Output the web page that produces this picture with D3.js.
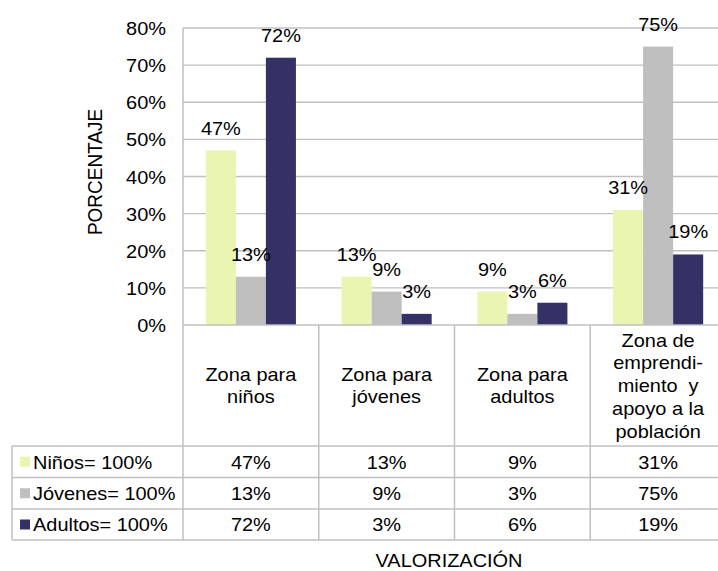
<!DOCTYPE html>
<html>
<head>
<meta charset="utf-8">
<script src="https://cdn.jsdelivr.net/npm/d3@7"></script>
<style>
  body { margin: 0; background: #fff; }
  svg text { font-family: "Liberation Sans", Arial, sans-serif; font-size: 19px; fill: #000; white-space: pre; }
</style>
</head>
<body>
<svg id="chart" width="718" height="571"></svg>
<script>
// categories (x axis) and the lines shown in the table header
var categories = ["Zona para niños", "Zona para jóvenes", "Zona para adultos", "Zona de emprendimiento y apoyo a la población"];
var categoryLines = [
  ["Zona para", "niños"],
  ["Zona para", "jóvenes"],
  ["Zona para", "adultos"],
  ["Zona de", "emprendi-", "miento  y", "apoyo a la", "población"]
];
var seriesNames = ["Niños= 100%", "Jóvenes= 100%", "Adultos= 100%"];
var ninos   = [0.47, 0.13, 0.09, 0.31];
var jovenes = [0.13, 0.09, 0.03, 0.75];
var adultos = [0.72, 0.03, 0.06, 0.19];
var yTicks  = [0, 0.1, 0.2, 0.3, 0.4, 0.5, 0.6, 0.7, 0.8];
var colors  = ["#e9f5b0", "#bfbfbf", "#333166"];

var seriesData = [ninos, jovenes, adultos];
var SX = 1.05; // text in the original is slightly wide

var svg = d3.select("#chart");
var plotTop = 28, base = 325, left = 183, right = 726;
var rowY = [446, 477.5, 509, 540];
var tableLeft = 12;
var gridColor = "#c0c0c0";

var y = d3.scaleLinear().domain([0, 0.8]).range([base, plotTop]);
var x = d3.scaleBand().domain(categories).range([left, right]);
var xs = d3.scaleBand().domain(seriesNames).range([0, x.bandwidth()]).paddingOuter(0.76);
var fmt = d3.format(".0%");

function label(g, px, py, txt, anchor) {
  return g.append("text")
    .attr("transform", "translate(" + px + "," + py + ") scale(" + SX + ",1)")
    .attr("text-anchor", anchor)
    .text(txt);
}

// gridlines
svg.append("g").selectAll("line")
  .data(yTicks.filter(d => d > 0))
  .enter().append("line")
  .attr("x1", left).attr("x2", right)
  .attr("y1", d => y(d)).attr("y2", d => y(d))
  .style("stroke", gridColor).style("stroke-width", 1.3);

// y tick labels
var yl = svg.append("g");
yTicks.forEach(function(t){ label(yl, 166, y(t) + 7, fmt(t), "end"); });

// y axis title
svg.append("text")
  .attr("transform", "translate(102,172) scale(" + SX + ",1) rotate(-90)")
  .attr("text-anchor", "middle")
  .text("PORCENTAJE");

// bars
var groups = svg.append("g").selectAll("g")
  .data(categories)
  .enter().append("g")
  .attr("transform", d => "translate(" + x(d) + ",0)");

groups.selectAll("rect")
  .data((d, i) => seriesData.map((s, j) => ({name: seriesNames[j], v: s[i], c: colors[j]})))
  .enter().append("rect")
  .attr("x", d => xs(d.name))
  .attr("width", xs.bandwidth())
  .attr("y", d => y(d.v))
  .attr("height", d => base - y(d.v))
  .attr("fill", d => d.c);

groups.each(function(cat, i){
  var g = d3.select(this);
  seriesData.forEach(function(s, j){
    label(g, xs(seriesNames[j]) + xs.bandwidth() / 2, y(s[i]) - 16, fmt(s[i]), "middle");
  });
});

// table lines
var tl = svg.append("g").style("stroke", gridColor).style("stroke-width", 1.5);
tl.append("line").attr("x1", left).attr("x2", right).attr("y1", base).attr("y2", base);
tl.append("line").attr("x1", left).attr("x2", left).attr("y1", plotTop).attr("y2", rowY[3]);
x.domain().slice(1).forEach(function(c){
  tl.append("line").attr("x1", x(c)).attr("x2", x(c)).attr("y1", base).attr("y2", rowY[3]);
});
rowY.forEach(function(r){
  tl.append("line").attr("x1", tableLeft).attr("x2", right).attr("y1", r).attr("y2", r);
});
tl.append("line").attr("x1", tableLeft).attr("x2", tableLeft).attr("y1", rowY[0]).attr("y2", rowY[3]);

// category header cells
var lh = 22.75;
categoryLines.forEach(function(lines, i){
  var cx = x(categories[i]) + x.bandwidth() / 2;
  var cy = (base + rowY[0]) / 2 + 6.6 - (lines.length - 1) * lh / 2;
  lines.forEach(function(t, k){ label(svg, cx, cy + k * lh, t, "middle"); });
});

// legend rows with values
seriesNames.forEach(function(n, j){
  var cy = (rowY[j] + rowY[j + 1]) / 2;
  svg.append("rect").attr("x", 20).attr("y", cy - 5).attr("width", 10).attr("height", 10).attr("fill", colors[j]);
  label(svg, 33, cy + 6.8, n, "start");
  categories.forEach(function(c, i){
    label(svg, x(c) + x.bandwidth() / 2, cy + 6.8, fmt(seriesData[j][i]), "middle");
  });
});

// x axis title
label(svg, 449, 567, "VALORIZACIÓN", "middle");
</script>
</body>
</html>
